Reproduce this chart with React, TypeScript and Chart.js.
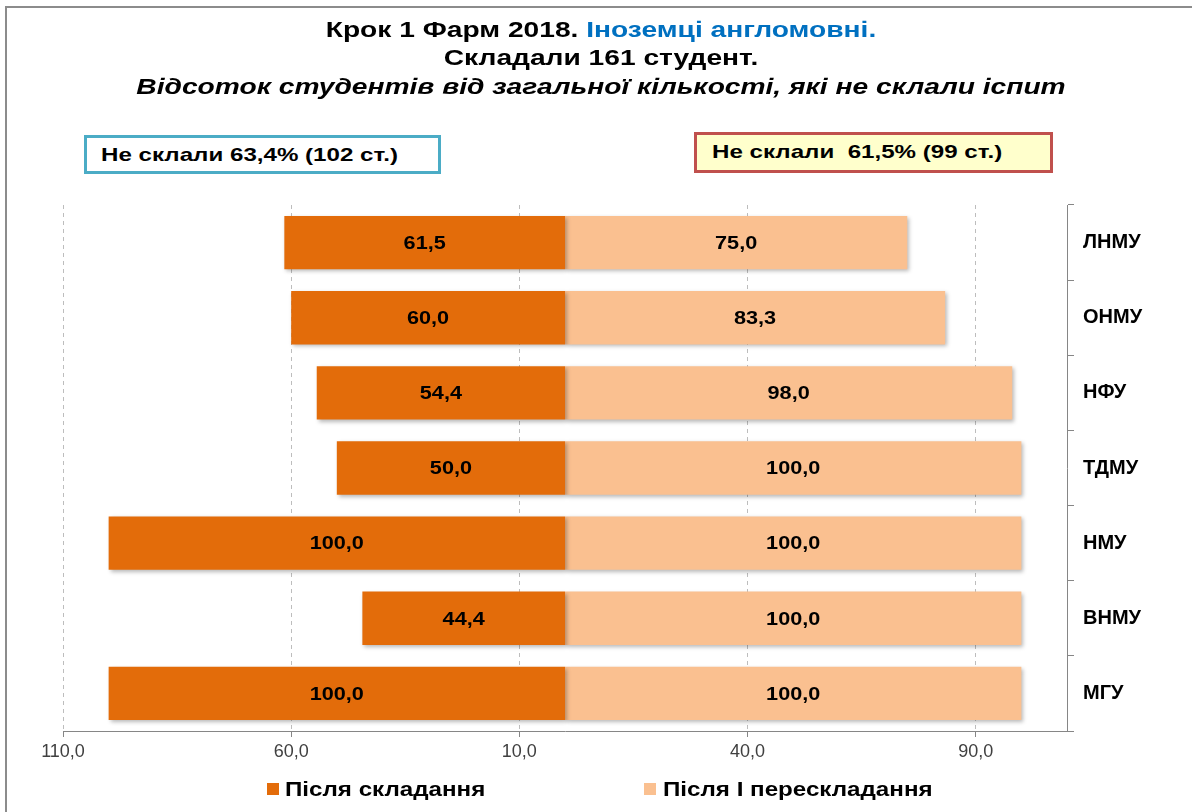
import React, { useEffect, useRef } from "react";
import { Chart, registerables } from "chart.js";

Chart.register(...registerables);

// ---------- data ----------
const categories = ["ЛНМУ", "ОНМУ", "НФУ", "ТДМУ", "НМУ", "ВНМУ", "МГУ"];
const afterFirstAttempt = [61.5, 60.0, 54.4, 50.0, 100.0, 44.4, 100.0];
const afterFirstRetake = [75.0, 83.3, 98.0, 100.0, 100.0, 100.0, 100.0];
const seriesNames = ["Після складання", "Після I перескладання"];
const seriesColors = ["#E36C0A", "#FAC090"];
const xTickValues = [-110, -60, -10, 40, 90];
const xMin = -110;
const xMax = 110;

const titleLine1a = "Крок 1 Фарм 2018. ";
const titleLine1b = "Іноземці англомовні.";
const titleLine2 = "Складали 161 студент.";
const titleLine3 = "Відсоток студентів від загальної кількості, які не склали іспит";
const boxLeftText = "Не склали 63,4% (102 ст.)";
const boxRightText = "Не склали  61,5% (99 ст.)";

const FONT = "'Liberation Sans', Arial, sans-serif";

const fmt = (v: number) => Math.abs(Number(v)).toFixed(1).replace(".", ",");

const barShadow = {
  id: "barShadow",
  beforeDatasetsDraw(chart: any) {
    const c = chart.ctx;
    c.save();
    c.shadowColor = "rgba(0,0,0,0.28)";
    c.shadowBlur = 4;
    c.shadowOffsetX = 2;
    c.shadowOffsetY = 2;
  },
  afterDatasetsDraw(chart: any) {
    chart.ctx.restore();
  },
};

const valueLabels = {
  id: "valueLabels",
  afterDatasetsDraw(chart: any) {
    const ctx = chart.ctx;
    chart.data.datasets.forEach((ds: any, di: number) => {
      const meta = chart.getDatasetMeta(di);
      meta.data.forEach((bar: any, i: number) => {
        const { x, y } = bar.getCenterPoint();
        ctx.save();
        ctx.translate(x, y);
        ctx.scale(1.14, 1);
        ctx.font = `bold 19px ${FONT}`;
        ctx.fillStyle = "#000000";
        ctx.textAlign = "center";
        ctx.textBaseline = "middle";
        ctx.fillText(fmt(ds.data[i]), 0, 1);
        ctx.restore();
      });
    });
  },
};

export default function App() {
  const canvasRef = useRef<HTMLCanvasElement | null>(null);

  useEffect(() => {
    if (!canvasRef.current) return;
    const chart = new Chart(canvasRef.current, {
      type: "bar",
      data: {
        labels: categories,
        datasets: [
          {
            label: seriesNames[0],
            data: afterFirstAttempt.map((v) => -v),
            backgroundColor: seriesColors[0],
            categoryPercentage: 1,
            barPercentage: 0.71,
          },
          {
            label: seriesNames[1],
            data: afterFirstRetake,
            backgroundColor: seriesColors[1],
            categoryPercentage: 1,
            barPercentage: 0.71,
          },
        ],
      },
      options: {
        responsive: false,
        animation: false,
        indexAxis: "y",
        layout: { padding: { left: 63, top: 205, right: 0, bottom: 0 } },
        plugins: {
          legend: { display: false },
          title: { display: false },
          tooltip: { enabled: false },
        },
        scales: {
          x: {
            stacked: true,
            min: xMin,
            max: xMax,
            afterBuildTicks: (s: any) => {
              s.ticks = xTickValues.map((v) => ({ value: v }));
            },
            afterFit: (s: any) => {
              s.height = 81;
            },
            grid: {
              color: "#bdbdbd",
              tickColor: "#868686",
              tickLength: 6,
              drawOnChartArea: true,
            },
            border: { color: "#868686", dash: [4, 4], width: 1 },
            ticks: {
              callback: (v: any) => fmt(v),
              font: { family: FONT, size: 18 },
              color: "#404040",
              padding: 4,
              maxRotation: 0,
              autoSkip: false,
            },
          },
          y: {
            stacked: true,
            position: "right",
            afterFit: (s: any) => {
              s.width = 125;
            },
            grid: {
              drawOnChartArea: false,
              tickColor: "#868686",
              tickLength: 7,
              offset: true,
            },
            border: { color: "#868686", width: 1 },
            ticks: {
              font: { family: FONT, size: 20, weight: "bold" },
              color: "#000000",
              padding: 9,
            },
          },
        },
      },
      plugins: [barShadow, valueLabels],
    } as any);
    return () => chart.destroy();
  }, []);

  const titleBase: React.CSSProperties = {
    position: "absolute",
    left: 0,
    width: 1202,
    textAlign: "center",
    fontFamily: FONT,
    fontWeight: "bold",
    fontSize: 22,
    lineHeight: "26px",
    color: "#000",
    transform: "scaleX(1.28)",
    transformOrigin: "601px 0",
    whiteSpace: "pre",
  };

  const legendText: React.CSSProperties = {
    position: "absolute",
    top: 776,
    fontFamily: FONT,
    fontWeight: "bold",
    fontSize: 21,
    lineHeight: "26px",
    color: "#000",
    whiteSpace: "pre",
    transform: "scaleX(1.15)",
    transformOrigin: "0 0",
  };

  const boxText: React.CSSProperties = {
    position: "absolute",
    top: 6,
    fontFamily: FONT,
    fontWeight: "bold",
    fontSize: 19,
    lineHeight: "22px",
    whiteSpace: "pre",
    transform: "scaleX(1.27)",
    transformOrigin: "0 0",
    color: "#000",
  };

  return (
    <div
      style={{
        position: "fixed",
        left: 0,
        top: 0,
        width: 1192,
        height: 812,
        background: "#ffffff",
        overflow: "hidden",
      }}
    >
      <div
        style={{
          position: "absolute",
          left: 5,
          top: 6,
          right: -10,
          bottom: -10,
          borderLeft: "2px solid #8c8c8c",
          borderTop: "2px solid #8c8c8c",
        }}
      />
      <canvas
        ref={canvasRef}
        width={1192}
        height={812}
        style={{ position: "absolute", left: 0, top: 0, width: 1192, height: 812 }}
      />
      <div style={{ ...titleBase, top: 17 }}>
        <span>{titleLine1a}</span>
        <span style={{ color: "#0070C0" }}>{titleLine1b}</span>
      </div>
      <div style={{ ...titleBase, top: 45 }}>{titleLine2}</div>
      <div style={{ ...titleBase, top: 74, fontStyle: "italic" }}>{titleLine3}</div>

      <div
        style={{
          position: "absolute",
          left: 84,
          top: 135,
          width: 357,
          height: 39,
          boxSizing: "border-box",
          border: "3px solid #4BACC6",
          background: "#ffffff",
        }}
      >
        <span style={{ ...boxText, left: 14 }}>{boxLeftText}</span>
      </div>
      <div
        style={{
          position: "absolute",
          left: 694,
          top: 132,
          width: 359,
          height: 41,
          boxSizing: "border-box",
          border: "3px solid #C0504D",
          background: "#FFFFCC",
        }}
      >
        <span style={{ ...boxText, left: 15, top: 6 }}>{boxRightText}</span>
      </div>

      <div
        style={{
          position: "absolute",
          left: 267,
          top: 783,
          width: 12,
          height: 12,
          background: seriesColors[0],
        }}
      />
      <span style={{ ...legendText, left: 285 }}>{seriesNames[0]}</span>
      <div
        style={{
          position: "absolute",
          left: 644,
          top: 783,
          width: 12,
          height: 12,
          background: seriesColors[1],
        }}
      />
      <span style={{ ...legendText, left: 663 }}>{seriesNames[1]}</span>
    </div>
  );
}
